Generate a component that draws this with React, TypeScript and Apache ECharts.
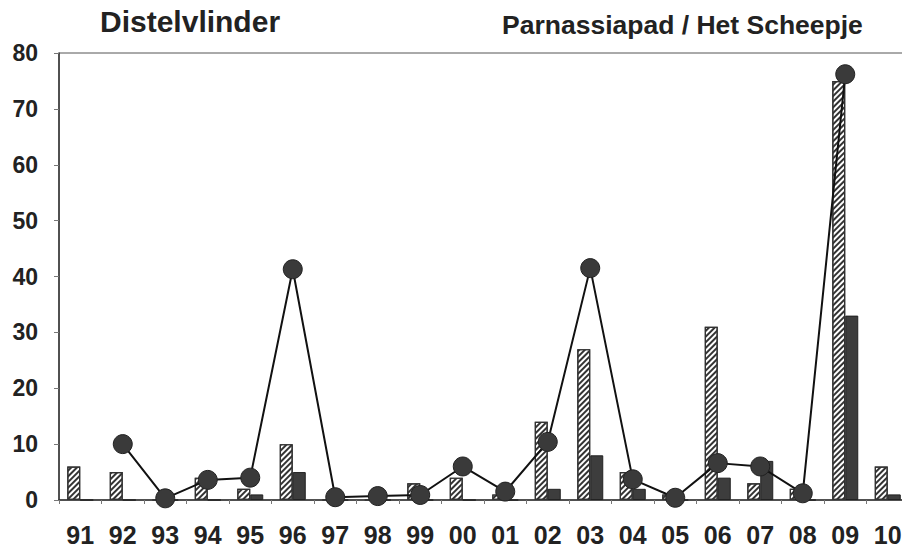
import React, { useEffect, useRef } from "react";
import * as echarts from "echarts";

const years = ["91","92","93","94","95","96","97","98","99","00","01","02","03","04","05","06","07","08","09","10"];
const hatchedValues = [6, 5, 0, 4, 2, 10, 0, 0, 3, 4, 1, 14, 27, 5, 1, 31, 3, 2, 75, 6];
const darkValues = [0, 0, 0, 0, 1, 5, 0, 0, 0, 0, 0, 2, 8, 2, 0, 4, 7, 0, 33, 1];
const lineValues: (number | null)[] = [null, 10, 0.3, 3.6, 4, 41.3, 0.5, 0.7, 0.9, 6, 1.5, 10.4, 41.5, 3.7, 0.4, 6.6, 6, 1.2, 76.2, null];
const yTicks = [0, 10, 20, 30, 40, 50, 60, 70, 80];

const FONT = '"Liberation Sans", Arial, sans-serif';

export default function App() {
  const ref = useRef<HTMLDivElement>(null);
  useEffect(() => {
    if (!ref.current) return;
    const chart = echarts.init(ref.current, undefined, { renderer: "svg" });
    chart.setOption({
      animation: false,
      backgroundColor: "#ffffff",
      title: [
        {
          text: "Distelvlinder",
          left: 100,
          top: 6,
          padding: 0,
          textStyle: { fontFamily: FONT, fontWeight: "bold", fontSize: 30, color: "#222" },
        },
        {
          text: "Parnassiapad / Het Scheepje",
          left: 502,
          top: 11,
          padding: 0,
          textStyle: { fontFamily: FONT, fontWeight: "bold", fontSize: 26.5, color: "#222" },
        },
      ],
      grid: {
        left: 59,
        top: 53,
        width: 850,
        height: 447,
        show: true,
        borderColor: "#555",
        borderWidth: 1,
        backgroundColor: "transparent",
      },
      xAxis: {
        type: "category",
        data: years,
        boundaryGap: true,
        axisLine: { lineStyle: { color: "#333", width: 1.5 } },
        axisTick: { show: true, length: 4, lineStyle: { color: "#777" } },
        axisLabel: {
          margin: 22,
          fontFamily: FONT,
          fontWeight: "bold",
          fontSize: 25,
          color: "#222",
          interval: 0,
        },
      },
      yAxis: {
        type: "value",
        min: yTicks[0],
        max: yTicks[yTicks.length - 1],
        interval: 10,
        splitLine: { show: false },
        axisLine: { show: true, lineStyle: { color: "#333", width: 1.5 } },
        axisTick: { show: true, length: 5, lineStyle: { color: "#777" } },
        axisLabel: {
          margin: 21,
          fontFamily: FONT,
          fontWeight: "bold",
          fontSize: 23,
          color: "#222",
        },
      },
      series: [
        {
          type: "bar",
          data: hatchedValues,
          barWidth: 13,
          barGap: "0%",
          itemStyle: {
            color: "#ffffff",
            borderColor: "#333",
            borderWidth: 1.2,
            decal: {
              symbol: "rect",
              symbolSize: 1,
              color: "#333",
              backgroundColor: "transparent",
              dashArrayX: [1, 0],
              dashArrayY: [2, 2],
              rotation: -Math.PI / 4,
            },
          },
          z: 2,
        },
        {
          type: "bar",
          data: darkValues,
          barWidth: 13,
          barGap: "0%",
          itemStyle: { color: "#3d3d3d", borderColor: "#222", borderWidth: 1 },
          z: 2,
        },
        {
          type: "line",
          data: lineValues,
          symbol: "circle",
          symbolSize: 19,
          connectNulls: false,
          lineStyle: { color: "#111", width: 2 },
          itemStyle: { color: "#3a3a3a", borderColor: "#222", borderWidth: 1 },
          z: 5,
        },
      ],
    });
    return () => chart.dispose();
  }, []);
  return (
    <div style={{ width: 902, height: 548, position: "absolute", left: 0, top: 0, overflow: "hidden", background: "#fff" }}>
      <div ref={ref} style={{ width: 912, height: 548 }} />
    </div>
  );
}
